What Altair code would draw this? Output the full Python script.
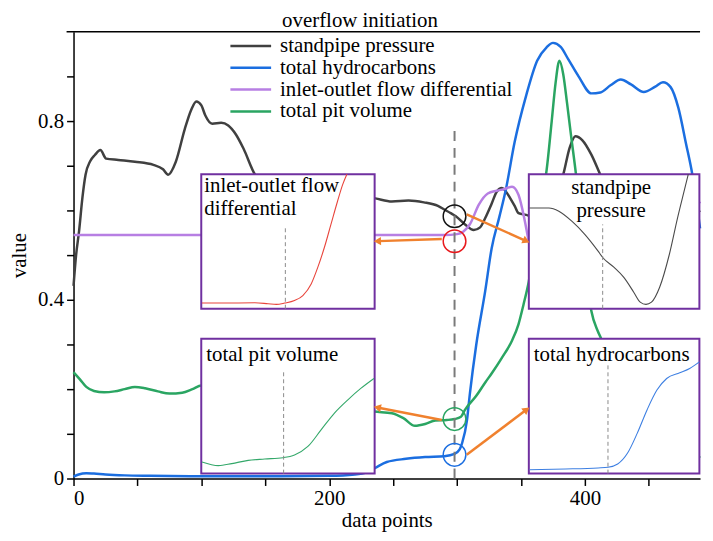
import math
import pandas as pd
import altair as alt

# ---------------- data ----------------
series_names = ["standpipe pressure", "total hydrocarbons",
                "inlet-outlet flow differential", "total pit volume"]
series_colors = ["#404040", "#1b6ee0", "#b77fe3", "#2aa562"]

sp_x = [0, 2, 4.3, 7, 9.4, 13, 16.7, 21, 25.5, 35, 48, 62.5, 70, 74, 80, 87, 92, 96, 100, 103,
        108.5, 115.5, 121, 127, 133, 142, 150, 170, 200, 225, 236, 249, 262, 274, 285, 290, 295,
        299, 306, 313, 318, 322, 327, 331, 335, 338, 341.6, 345, 348, 354, 360, 368, 376, 383,
        388, 392.5, 398, 405, 412, 420, 435, 455, 475, 490]
sp_y = [0.431, 0.50, 0.553, 0.63, 0.68, 0.71, 0.724, 0.735, 0.716, 0.713, 0.709, 0.702, 0.692,
        0.68, 0.709, 0.782, 0.825, 0.844, 0.835, 0.813, 0.794, 0.796, 0.79, 0.77, 0.738, 0.68,
        0.66, 0.645, 0.64, 0.632, 0.627, 0.62, 0.622, 0.618, 0.61, 0.602, 0.594, 0.587, 0.569,
        0.556, 0.562, 0.583, 0.615, 0.642, 0.65, 0.643, 0.627, 0.61, 0.594, 0.59, 0.585, 0.6,
        0.63, 0.68, 0.74, 0.766, 0.757, 0.725, 0.68, 0.63, 0.56, 0.52, 0.56, 0.6]

thc_x = [0, 4, 10, 16, 25, 40, 60, 100, 150, 200, 220, 230, 236, 245, 260, 275, 290, 298, 302,
         304, 307.7, 310, 315, 322, 327, 333, 338, 345, 354, 362.6, 370, 375, 381, 387, 395, 405,
         412, 420, 428, 436, 446, 455, 461, 467, 473, 479, 484, 490]
thc_y = [0.004, 0.009, 0.012, 0.011, 0.009, 0.007, 0.006, 0.005, 0.005, 0.006, 0.009, 0.015,
         0.024, 0.037, 0.044, 0.048, 0.05, 0.055, 0.065, 0.08, 0.13, 0.19, 0.3, 0.42, 0.515,
         0.585, 0.645, 0.753, 0.857, 0.935, 0.965, 0.975, 0.966, 0.938, 0.9, 0.862, 0.864, 0.88,
         0.893, 0.882, 0.865, 0.877, 0.887, 0.876, 0.83, 0.75, 0.68, 0.56]

flow_x = [0, 50, 100, 150, 200, 240, 270, 290, 300, 305, 310, 317, 324, 331, 337, 343, 348, 353,
          356, 365, 380, 420, 460, 480, 490]
flow_y = [0.545, 0.545, 0.545, 0.545, 0.545, 0.545, 0.545, 0.545, 0.547, 0.553, 0.569, 0.613,
          0.638, 0.644, 0.648, 0.653, 0.635, 0.576, 0.531, 0.45, 0.42, 0.45, 0.52, 0.58, 0.62]

pit_x = [0, 5, 10, 16, 24, 32, 40, 48, 56, 66, 75, 85, 93, 100, 130, 170, 210, 235, 249, 258,
         267, 275, 283, 292, 298, 303, 306, 315, 322, 327, 335, 343, 348, 352, 356, 362, 366, 370,
         374, 377, 380, 383, 386, 389, 393, 398, 405, 410, 413, 420, 440, 460, 480, 490]
pit_y = [0.238, 0.222, 0.205, 0.196, 0.193, 0.195, 0.2, 0.205, 0.202, 0.195, 0.19, 0.192, 0.2,
         0.208, 0.2, 0.185, 0.165, 0.15, 0.146, 0.135, 0.118, 0.122, 0.13, 0.131, 0.133, 0.138,
         0.153, 0.185, 0.215, 0.235, 0.27, 0.309, 0.345, 0.39, 0.44, 0.55, 0.62, 0.69, 0.8,
         0.885, 0.935, 0.905, 0.84, 0.77, 0.68, 0.54, 0.375, 0.33, 0.31, 0.2, 0.08, 0.03, 0.03,
         0.05]

# inset curves, in each inset's own 0..1 frame
inset_titles = ["inlet-outlet flow\ndifferential", "standpipe\npressure",
                "total pit volume", "total hydrocarbons"]
inset_colors = ["#e8453c", "#4a4a4a", "#34a86a", "#3d7fe2"]

ins_flow_u = [0.004, 0.118, 0.309, 0.385, 0.433, 0.481, 0.538, 0.586, 0.634, 0.672, 0.710,
              0.748, 0.786, 0.815, 0.840]
ins_flow_v = [0.042, 0.042, 0.044, 0.037, 0.032, 0.042, 0.061, 0.098, 0.184, 0.307, 0.455,
              0.627, 0.799, 0.921, 1.0]
ins_sp_u = [0.004, 0.118, 0.176, 0.252, 0.328, 0.405, 0.433, 0.500, 0.557, 0.615, 0.653, 0.687,
            0.719, 0.767, 0.824, 0.872, 0.910, 0.935]
ins_sp_v = [0.749, 0.749, 0.725, 0.651, 0.553, 0.430, 0.381, 0.307, 0.233, 0.123, 0.049, 0.032,
            0.049, 0.160, 0.405, 0.676, 0.872, 1.0]
ins_pit_u = [0.004, 0.099, 0.176, 0.271, 0.366, 0.471, 0.538, 0.615, 0.691, 0.767, 0.844, 0.920,
             0.996]
ins_pit_v = [0.086, 0.059, 0.074, 0.098, 0.108, 0.118, 0.138, 0.201, 0.324, 0.447, 0.545, 0.631,
             0.705]
ins_thc_u = [0.004, 0.215, 0.406, 0.464, 0.521, 0.579, 0.636, 0.693, 0.751, 0.808, 0.885, 0.943,
             1.0]
ins_thc_v = [0.029, 0.034, 0.042, 0.047, 0.071, 0.152, 0.300, 0.472, 0.619, 0.705, 0.747, 0.779,
             0.828]
ins_dash_u = [0.485, 0.433, 0.475, 0.464]
ins_dash_vtop = [0.602, 0.627, 0.767, 0.816]

# circled points at the overflow initiation
circle_x = [298, 298, 298, 298]
circle_y = [0.587, 0.531, 0.133, 0.053]
circle_colors = ["#111111", "#e8191c", "#2aa562", "#1b6ee0"]

onset_x = 298
onset_top = 0.78

# ---------------- layout ----------------
X_MAX = 490
W, H = 631, 450
KX, KY = W / X_MAX, H / 1.0
FONT = "Liberation Serif"
FS = 21

box_x0 = [99.9, 356.1, 99.9, 356.1]
box_x1 = [235.5, 489.5, 235.5, 489.5]
box_y0 = [0.380, 0.380, 0.011, 0.011]
box_y1 = [0.681, 0.681, 0.313, 0.313]

# arrows: start (near circle) -> end (inset edge)
arrow_x0 = [307.5, 288, 288, 307.5]
arrow_y0 = [0.591, 0.536, 0.131, 0.053]
arrow_x1 = [356.1, 235.5, 235.5, 356.1]
arrow_y1 = [0.529, 0.531, 0.160, 0.158]

# ---------------- tables ----------------
rows = []
for name, xs_, ys_ in zip(series_names, [sp_x, thc_x, flow_x, pit_x], [sp_y, thc_y, flow_y, pit_y]):
    for x, y in zip(xs_, ys_):
        rows.append({"series": name, "x": x, "y": y})
main_df = pd.DataFrame(rows)

ins_u = [ins_flow_u, ins_sp_u, ins_pit_u, ins_thc_u]
ins_v = [ins_flow_v, ins_sp_v, ins_pit_v, ins_thc_v]
irows, drows, brows = [], [], []
for i in range(4):
    bw = box_x1[i] - box_x0[i]
    bh = box_y1[i] - box_y0[i]
    for u, v in zip(ins_u[i], ins_v[i]):
        irows.append({"inset": i, "col": inset_colors[i],
                      "x": box_x0[i] + u * bw, "y": box_y0[i] + v * bh})
    drows.append({"inset": i, "x": box_x0[i] + ins_dash_u[i] * bw,
                  "y": box_y0[i], "y2": box_y0[i] + ins_dash_vtop[i] * bh})
    brows.append({"inset": i, "x": box_x0[i], "x2": box_x1[i], "y": box_y0[i], "y2": box_y1[i]})
inset_df = pd.DataFrame(irows)
dash_df = pd.DataFrame(drows)
box_df = pd.DataFrame(brows)

# inset title positions (pixel offsets from box top-left)
lab_off_x = [3, 0, 5, 5]
lab_off_y = [1, 3, 6, 5]
lab_left, lab_center = [], []
for i in range(4):
    yy = box_y1[i] - lab_off_y[i] / KY
    if i == 1:
        lab_center.append({"t": inset_titles[i], "x": (box_x0[i] + box_x1[i]) / 2 - 3 / KX, "y": yy})
    else:
        lab_left.append({"t": inset_titles[i], "x": box_x0[i] + lab_off_x[i] / KX, "y": yy})
lab_left_df = pd.DataFrame(lab_left)
lab_center_df = pd.DataFrame(lab_center)

arows, hrows = [], []
for x0, y0, x1, y1 in zip(arrow_x0, arrow_y0, arrow_x1, arrow_y1):
    sx, sy = (x1 - x0) * KX, -(y1 - y0) * KY
    L = math.hypot(sx, sy)
    ux, uy = sx / L, sy / L
    back = 4.0
    hx = x1 - ux * back / KX
    hy = y1 + uy * back / KY
    ang = math.degrees(math.atan2(sx, -sy)) % 360
    arows.append({"x": x0, "y": y0, "x2": hx, "y2": hy})
    hrows.append({"x": hx, "y": hy, "ang": ang})
arrow_df = pd.DataFrame(arows)
head_df = pd.DataFrame(hrows)

circle_df = pd.DataFrame({"x": circle_x, "y": circle_y, "c": circle_colors})
legend_df = pd.DataFrame({"series": series_names, "row": list(range(4))})

# ---------------- chart ----------------
xs = alt.Scale(domain=[0, X_MAX], nice=False, zero=False)
ys = alt.Scale(domain=[0, 1], nice=False, zero=False)
cscale = alt.Scale(domain=series_names, range=series_colors)

x_axis = alt.Axis(values=list(range(0, X_MAX + 1, 50)),
                  labelExpr="datum.value % 200 == 0 ? datum.label : ''",
                  title="data points", grid=False, tickSize=7, labelPadding=2,
                  titlePadding=1)
y_axis = alt.Axis(values=[round(0.1 * k, 1) for k in range(10)],
                  labelExpr="datum.value == 0 ? '0' : ((abs(datum.value - 0.4) < 1e-6 || abs(datum.value - 0.8) < 1e-6) ? datum.label : '')",
                  title="value", grid=False, tickSize=7, labelPadding=3, titlePadding=8)


def X(f="x:Q"):
    return alt.X(f, scale=xs, axis=x_axis)


def Y(f="y:Q"):
    return alt.Y(f, scale=ys, axis=y_axis)


lines = alt.Chart(main_df).mark_line(strokeWidth=2.5, interpolate="monotone").encode(
    x=X(), y=Y(),
    color=alt.Color("series:N", scale=cscale, legend=None),
    detail="series:N",
)

onset = alt.Chart(pd.DataFrame({"x": [onset_x], "y": [0], "y2": [onset_top]})).mark_rule(
    color="#7a7a7a", strokeWidth=2, strokeDash=[10, 7]).encode(x=X(), y=Y(), y2="y2:Q")

circles = alt.Chart(circle_df).mark_point(shape="circle", filled=False, size=520,
                                          strokeWidth=1.5, opacity=1).encode(
    x=X(), y=Y(), color=alt.Color("c:N", scale=None))

boxes = alt.Chart(box_df).mark_rect(fill="white", stroke="#7030a0", strokeWidth=2).encode(
    x=X(), x2="x2:Q", y=Y(), y2="y2:Q")

inset_lines = alt.Chart(inset_df).mark_line(strokeWidth=1.1, interpolate="monotone").encode(
    x=X(), y=Y(), color=alt.Color("col:N", scale=None), detail="inset:N")

inset_dash = alt.Chart(dash_df).mark_rule(color="#8a8a8a", strokeWidth=1, strokeDash=[4, 3]).encode(
    x=X(), y=Y(), y2="y2:Q")

lab_l = alt.Chart(lab_left_df).mark_text(align="left", baseline="top", font=FONT, fontSize=FS,
                                         lineBreak="\n", lineHeight=23, color="black").encode(
    x=X(), y=Y(), text="t:N")
lab_c = alt.Chart(lab_center_df).mark_text(align="center", baseline="top", font=FONT, fontSize=FS,
                                           lineBreak="\n", lineHeight=23, color="black").encode(
    x=X(), y=Y(), text="t:N")

arrows = alt.Chart(arrow_df).mark_rule(color="#f0812e", strokeWidth=2.5).encode(
    x=X(), x2="x2:Q", y=Y(), y2="y2:Q")
heads = alt.Chart(head_df).mark_point(shape="triangle", filled=True, size=70, color="#f0812e",
                                      opacity=1).encode(
    x=X(), y=Y(), angle=alt.Angle("ang:Q", scale=None))

leg_base = alt.Chart(legend_df).transform_calculate(ly="0.968 - 0.0488 * datum.row")
leg_lines = leg_base.mark_rule(strokeWidth=2.5).encode(
    x=alt.value(158), x2=alt.value(199), y=Y("ly:Q"),
    color=alt.Color("series:N", scale=cscale, legend=None))
leg_text = leg_base.mark_text(align="left", baseline="middle", font=FONT, fontSize=FS,
                              color="black").encode(
    x=alt.value(208), y=Y("ly:Q"), text="series:N")

top_rule = alt.Chart(pd.DataFrame({"a": [0]})).mark_rule(color="black", strokeWidth=1.5).encode(
    x=alt.value(-7), x2=alt.value(W), y=alt.value(0))

chart = alt.layer(
    lines, onset, circles, boxes, inset_lines, inset_dash, lab_l, lab_c,
    arrows, heads, leg_lines, leg_text, top_rule
).properties(
    width=W, height=H,
    title=alt.TitleParams("overflow initiation", font=FONT, fontSize=FS, fontWeight="normal",
                          anchor="middle", dx=-27, offset=0, color="black"),
    padding={"left": 0, "top": 0, "right": 0, "bottom": 0},
).configure_view(stroke=None).configure_axis(
    labelFont=FONT, titleFont=FONT, labelFontSize=FS, titleFontSize=FS,
    titleFontWeight="normal", labelColor="black", titleColor="black",
    domainColor="black", tickColor="black", domainWidth=1.5, tickWidth=1.5,
)

chart.save("out.html", embed_options={"renderer": "svg", "actions": False})
